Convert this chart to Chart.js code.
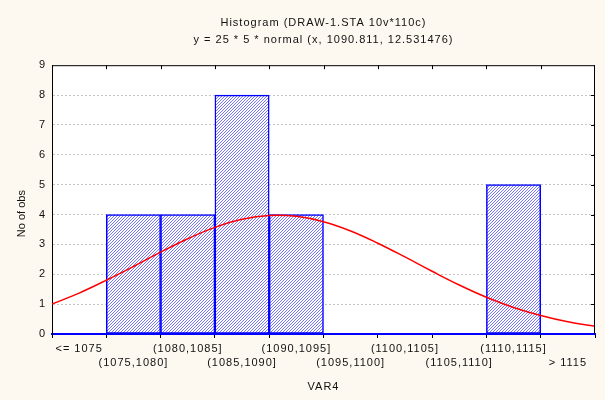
<!DOCTYPE html>
<html>
<head>
<meta charset="utf-8">
<script src="https://cdn.jsdelivr.net/npm/chart.js@4.4.1/dist/chart.umd.min.js"></script>
<style>
    html, body { margin: 0; padding: 0; background: #fdf9f0; }
    #wrap { width: 605px; height: 400px; position: relative; }
</style>
</head>
<body>
<div id="wrap"><canvas id="hist"></canvas></div>
<script>
// 直方图分组
const binLabels = ['<= 1075', '(1075,1080]', '(1080,1085]', '(1085,1090]', '(1090,1095]',
    '(1095,1100]', '(1100,1105]', '(1105,1110]', '(1110,1115]', '> 1115'];
const binCounts = [0, 4, 4, 8, 4, 0, 0, 0, 5, 0];

// 正态拟合曲线上的点
const curveX = [1070, 1072.5, 1075, 1077.5, 1080, 1082.5, 1085, 1087.5, 1090, 1092.5, 1095,
    1097.5, 1100, 1102.5, 1105, 1107.5, 1110, 1112.5, 1115, 1117.5, 1120];
const curveY = [1.00, 1.37, 1.80, 2.26, 2.74, 3.19, 3.57, 3.84, 3.97, 3.94, 3.76,
    3.45, 3.04, 2.58, 2.10, 1.64, 1.23, 0.89, 0.62, 0.41, 0.26];
const curveRange = [1070, 1120];

const yMin = 0;
const yMax = 9;

const titleLines = ['Histogram (DRAW-1.STA 10v*110c)', 'y = 25 * 5 * normal (x, 1090.811, 12.531476)'];
const yTitle = 'No of obs';

const FONT = '"Liberation Sans", Arial, sans-serif';
const TEXT_COLOR = '#111111';

// 斜线填充
function makeHatch() {
    const c = document.createElement('canvas');
    c.width = 3;
    c.height = 3;
    const g = c.getContext('2d');
    g.fillStyle = '#ffffff';
    g.fillRect(0, 0, 3, 3);
    g.fillStyle = '#7474ff';
    g.fillRect(2, 0, 1, 1);
    g.fillRect(1, 1, 1, 1);
    g.fillRect(0, 2, 1, 1);
    return g.createPattern(c, 'repeat');
}

// 绘图区白底 + 上/右边框和刻度 + 纵轴标题
const framePlugin = {
    id: 'frame',
    beforeDraw(chart) {
        const { ctx, chartArea: a } = chart;
        ctx.letterSpacing = '1px';
        ctx.save();
        ctx.fillStyle = '#ffffff';
        ctx.fillRect(a.left, a.top, a.right - a.left, a.bottom - a.top);
        ctx.restore();
    },
    afterDraw(chart) {
        const { ctx, chartArea: a } = chart;
        const xs = chart.scales.x;
        const ys = chart.scales.y;
        ctx.save();
        ctx.strokeStyle = '#000000';
        ctx.lineWidth = 1;
        ctx.beginPath();
        ctx.moveTo(a.left, a.top + 0.5);
        ctx.lineTo(a.right, a.top + 0.5);
        ctx.moveTo(a.right - 0.5, a.top);
        ctx.lineTo(a.right - 0.5, a.bottom);
        for (let i = 1; i < binLabels.length; i++) {
            const x = Math.round((xs.getPixelForValue(i - 1) + xs.getPixelForValue(i)) / 2) + 0.5;
            ctx.moveTo(x, a.top);
            ctx.lineTo(x, a.top + 4);
        }
        for (let v = yMin + 1; v < yMax; v++) {
            const y = Math.round(ys.getPixelForValue(v)) + 0.5;
            ctx.moveTo(a.right, y);
            ctx.lineTo(a.right - 4, y);
        }
        ctx.stroke();

        ctx.letterSpacing = '0px';
        ctx.translate(22, (a.top + a.bottom) / 2 + 14);
        ctx.rotate(-Math.PI / 2);
        ctx.font = '11px ' + FONT;
        ctx.fillStyle = TEXT_COLOR;
        ctx.textAlign = 'center';
        ctx.textBaseline = 'middle';
        ctx.fillText(yTitle, 0, 0);
        ctx.restore();
    }
};

const ctx = document.getElementById('hist').getContext('2d');

new Chart(ctx, {
    data: {
        labels: binLabels,
        datasets: [{
            type: 'line',
            data: curveX.map((x, i) => ({ x: x, y: curveY[i] })),
            xAxisID: 'xc',
            borderColor: '#ff0000',
            borderWidth: 1.5,
            pointRadius: 0,
            tension: 0.4,
            fill: false,
            order: 0
        }, {
            type: 'bar',
            data: binCounts,
            xAxisID: 'x',
            backgroundColor: makeHatch(),
            borderColor: '#0000ff',
            borderWidth: 1.5,
            borderSkipped: false,
            grouped: false,
            barPercentage: 1,
            categoryPercentage: 1,
            order: 1
        }]
    },
    options: {
        responsive: true,
        maintainAspectRatio: false,
        animation: false,
        layout: { padding: { right: 10, bottom: 0 } },
        plugins: {
            legend: { display: false },
            tooltip: { enabled: false },
            title: {
                display: true,
                fullSize: false,
                text: titleLines,
                color: TEXT_COLOR,
                font: { family: FONT, size: 11, weight: 'normal', lineHeight: 1.6 },
                padding: { top: 14, bottom: 16 }
            }
        },
        scales: {
            x: {
                type: 'category',
                offset: true,
                grid: { offset: true, drawOnChartArea: false, drawTicks: true, tickLength: 4, color: '#000000' },
                border: { color: '#0000ff', width: 2 },
                ticks: {
                    autoSkip: false,
                    maxRotation: 0,
                    padding: 3,
                    color: TEXT_COLOR,
                    font: { family: FONT, size: 11, lineHeight: 1.36 },
                    callback: function (value, index) {
                        const label = this.getLabelForValue(value);
                        return index % 2 === 1 ? ['', label] : label;
                    }
                },
                title: {
                    display: true,
                    text: 'VAR4',
                    color: TEXT_COLOR,
                    font: { family: FONT, size: 11, lineHeight: 1.2 },
                    padding: { top: 4, bottom: 6 }
                },
                afterFit: function (scale) { scale.height = 66; }
            },
            xc: {
                type: 'linear',
                display: false,
                min: curveRange[0],
                max: curveRange[1]
            },
            y: {
                min: yMin,
                max: yMax,
                ticks: {
                    stepSize: 1,
                    padding: 6,
                    color: TEXT_COLOR,
                    font: { family: FONT, size: 11 }
                },
                grid: {
                    drawTicks: false,
                    color: c => (c.tick && (c.tick.value === yMin || c.tick.value === yMax)) ? 'rgba(0,0,0,0)' : '#c4c4c4'
                },
                border: { color: '#000000', width: 1, dash: [2, 2] },
                afterFit: function (scale) { scale.width = 52; }
            }
        }
    },
    plugins: [framePlugin]
});
</script>
</body>
</html>
